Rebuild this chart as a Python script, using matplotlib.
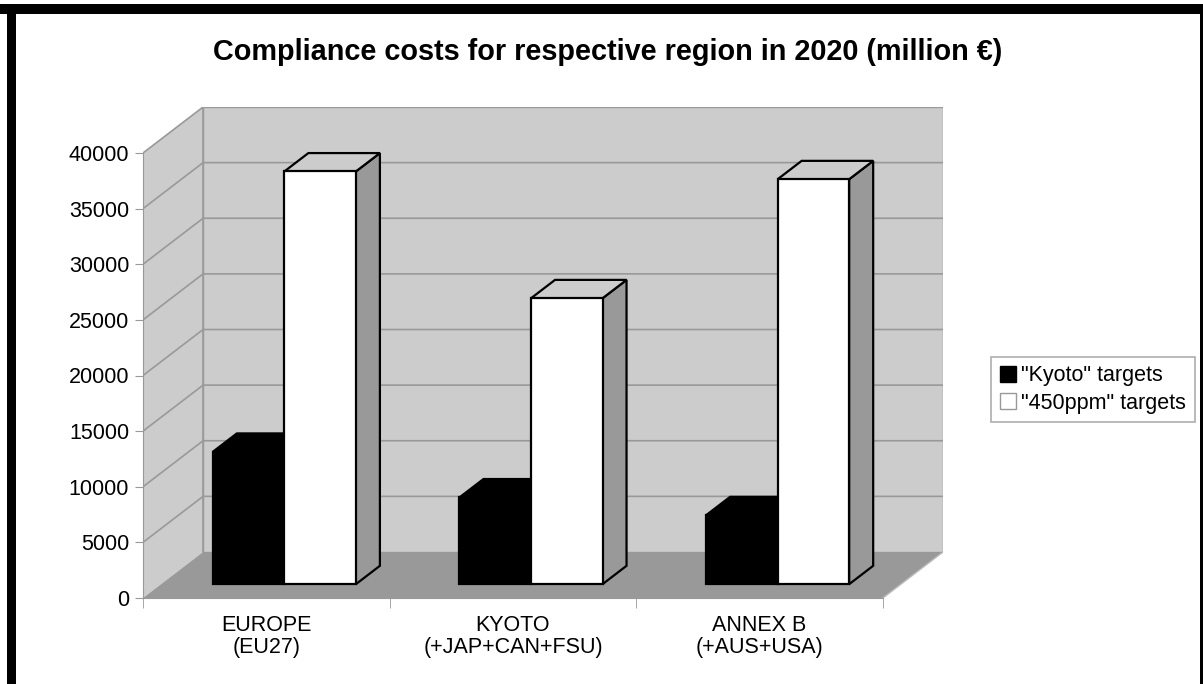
import numpy as np
import matplotlib
matplotlib.use('Agg')
import matplotlib.pyplot as plt
from matplotlib.patches import Polygon, Rectangle, Patch

plt.rcParams['font.family'] = ['Liberation Sans', 'DejaVu Sans']

categories = ['EUROPE\n(EU27)', 'KYOTO\n(+JAP+CAN+FSU)', 'ANNEX B\n(+AUS+USA)']
kyoto = [11900, 7800, 6200]
ppm450 = [37100, 25700, 36400]
series_names = ['"Kyoto" targets', '"450ppm" targets']
yticks = [0, 5000, 10000, 15000, 20000, 25000, 30000, 35000, 40000]
ymax = 40000

W, H = 1203, 684
fig = plt.figure(figsize=(W/100, H/100), dpi=100)

# plot area in pixels: front axis 143..882, back wall reaches 943; floor at 598, wall top at 107
px_left, px_right, px_bot, px_top = 143, 943, 598, 107
ax = fig.add_axes([px_left/W, 1-px_bot/H, (px_right-px_left)/W, (px_bot-px_top)/H])

n = len(categories)
ppc = 246.3                      # pixels per category on the front axis
DX = 60/ppc                      # depth offset in category units
DY = 46*ymax/445.0               # depth offset in value units
ax.set_xlim(-0.5, n-0.5+DX)
ax.set_ylim(0, ymax+DY)

def proj(x, y, d):
    return (x + d*DX, y + d*DY)

wall = '#cccccc'
floor = '#999999'
grid = '#999999'

x0, x1 = -0.5, n-0.5
# back wall, side wall and floor
ax.add_patch(Polygon([proj(x0, 0, 1), proj(x1, 0, 1), proj(x1, ymax, 1), proj(x0, ymax, 1)],
                     closed=True, fc=wall, ec=grid, lw=1, zorder=0))
ax.add_patch(Polygon([proj(x0, 0, 0), proj(x0, ymax, 0), proj(x0, ymax, 1), proj(x0, 0, 1)],
                     closed=True, fc=wall, ec='none', lw=1, zorder=0))
ax.add_patch(Polygon([proj(x0, 0, 0), proj(x1, 0, 0), proj(x1, 0, 1), proj(x0, 0, 1)],
                     closed=True, fc=floor, ec='none', zorder=1))

for t in yticks[1:]:
    a = proj(x0, t, 0); b = proj(x0, t, 1); c = proj(x1, t, 1)
    ax.plot([a[0], b[0], c[0]], [a[1], b[1], c[1]], color=grid, lw=1.2, zorder=0.5)
a = proj(x0, 0, 1); b = proj(x0, ymax, 1)
ax.plot([a[0], b[0]], [a[1], b[1]], color=grid, lw=1.2, zorder=0.5)

def bar3d(xl, xr, h, face, side, top, z):
    d1, d2 = 0.3, 0.7
    front = [proj(xl, 0, d1), proj(xr, 0, d1), proj(xr, h, d1), proj(xl, h, d1)]
    lid = [proj(xl, h, d1), proj(xr, h, d1), proj(xr, h, d2), proj(xl, h, d2)]
    right = [proj(xr, 0, d1), proj(xr, 0, d2), proj(xr, h, d2), proj(xr, h, d1)]
    for pts, fc in [(right, side), (lid, top), (front, face)]:
        ax.add_patch(Polygon(pts, closed=True, fc=fc, ec='black', lw=1.6,
                             joinstyle='miter', zorder=z))

bw = 0.29
for i in range(n):
    bar3d(i-bw, i, kyoto[i], 'black', 'black', 'black', 3+2*i)
    bar3d(i, i+bw, ppm450[i], 'white', '#999999', '#cccccc', 4+2*i)

# right edge of the floor
a = proj(x1, 0, 0); b = proj(x1, 0, 1)
ax.plot([a[0], b[0]], [a[1], b[1]], color='#bbbbbb', lw=1, zorder=1.5)

for s in ['top', 'right']:
    ax.spines[s].set_visible(False)
ax.spines['left'].set_bounds(0, ymax)
ax.spines['bottom'].set_bounds(x0, x1)
ax.spines['left'].set_color('#999999')
ax.spines['bottom'].set_color('#999999')
ax.set_yticks(yticks)
ax.set_yticklabels([str(t) for t in yticks], fontsize=15.5)
ax.tick_params(axis='y', length=6, color='#999999', pad=4)
ax.set_xticks(range(n))
ax.set_xticklabels(categories, fontsize=15.5, linespacing=1.1)
ax.set_xticks(np.arange(x0, x1+0.01, 1.0), minor=True)
ax.tick_params(axis='x', which='major', length=0, pad=12)
ax.tick_params(axis='x', which='minor', length=7, color='#999999')

fig.text(608/W, 1-52/H, 'Compliance costs for respective region in 2020 (million €)',
         ha='center', va='center', fontsize=20.8, fontweight='bold')

handles = [Patch(fc='black', ec='black'), Patch(fc='white', ec='#999999')]
leg = fig.legend(handles, series_names, loc='center left', bbox_to_anchor=(991/W, 1-389.5/H),
                 fontsize=15.5, frameon=True, fancybox=False, borderaxespad=0,
                 handlelength=0.75, handleheight=0.75, handletextpad=0.25,
                 labelspacing=0.3, borderpad=0.4)
leg.get_frame().set_edgecolor('#999999')
leg.get_frame().set_linewidth(1.2)

# black frame around the chart
fig.add_artist(Rectangle((0, 1-14/H), 1, 10/H, transform=fig.transFigure, fc='black', ec='none'))
fig.add_artist(Rectangle((7/W, 0), 9/W, 1-4/H, transform=fig.transFigure, fc='black', ec='none'))
fig.add_artist(Rectangle((1200/W, 0), 3/W, 1-4/H, transform=fig.transFigure, fc='black', ec='none'))

fig.savefig('out.png', dpi=100)
